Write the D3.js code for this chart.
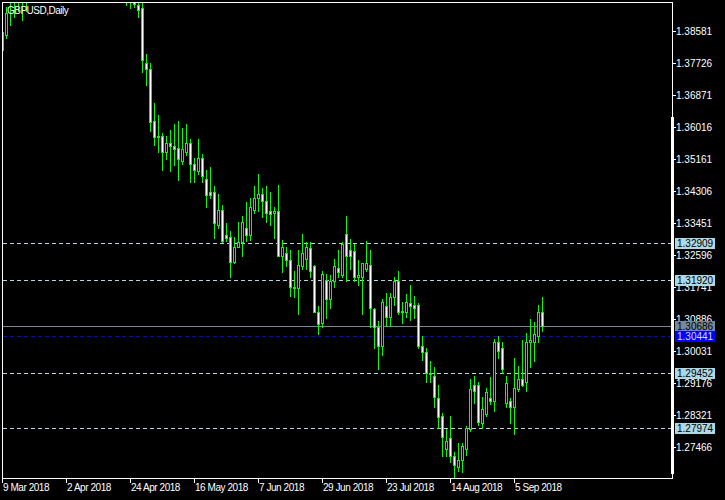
<!DOCTYPE html>
<html><head><meta charset="utf-8">
<script src="https://cdn.jsdelivr.net/npm/d3@7"></script>
<style>html,body{margin:0;padding:0;background:#000;overflow:hidden}</style>
</head><body>
<svg id="c" width="725" height="500"></svg>
<script>
const title = "GBPUSD,Daily";
const firstDay = "2018-03-09";
const lastDay = "2018-09-14";
const open = [1.3809,1.3849,1.3950,1.3975,1.3990,1.4015,1.3960,1.3990,1.4030,1.4140,1.4130,1.4140,1.4230,1.4170,1.4160,1.4020,1.4020,1.4080,1.4060,1.4090,1.4020,1.4090,1.4120,1.4150,1.4200,1.4240,1.4240,1.4330,1.4290,1.4190,1.4080,1.4010,1.3960,1.3975,1.3927,1.3919,1.3772,1.3758,1.3617,1.3577,1.3577,1.3534,1.3558,1.3550,1.3547,1.3512,1.3534,1.3558,1.3504,1.3483,1.3518,1.3462,1.3429,1.3429,1.3339,1.3381,1.3314,1.3309,1.3242,1.3282,1.3293,1.3333,1.3312,1.3379,1.3411,1.3424,1.3403,1.3376,1.3373,1.3376,1.3258,1.3264,1.3245,1.3175,1.3170,1.3229,1.3250,1.3277,1.3229,1.3108,1.3079,1.3194,1.3143,1.3189,1.3224,1.3205,1.3317,1.3272,1.3269,1.3202,1.3202,1.3221,1.3232,1.3114,1.3068,1.3015,1.3122,1.3095,1.3146,1.3191,1.3111,1.3106,1.3130,1.3127,1.3127,1.3015,1.3001,1.2945,1.2937,1.2878,1.2828,1.2742,1.2769,1.2721,1.2692,1.2710,1.2742,1.2793,1.2911,1.2911,1.2809,1.2833,1.2878,1.2868,1.3026,1.3012,1.2865,1.2868,1.2854,1.2900,1.2927,1.2921,1.3026,1.3028,1.3044,1.3106];
const high = [1.3863,1.3922,1.3995,1.4020,1.4040,1.4040,1.4010,1.4060,1.4150,1.4190,1.4180,1.4245,1.4240,1.4200,1.4170,1.4050,1.4090,1.4090,1.4110,1.4100,1.4100,1.4140,1.4180,1.4210,1.4250,1.4300,1.4340,1.4377,1.4300,1.4200,1.4090,1.4030,1.4010,1.3990,1.3950,1.3935,1.3796,1.3774,1.3667,1.3633,1.3587,1.3577,1.3595,1.3609,1.3619,1.3598,1.3611,1.3571,1.3518,1.3571,1.3531,1.3486,1.3494,1.3445,1.3424,1.3392,1.3344,1.3325,1.3309,1.3349,1.3363,1.3400,1.3411,1.3445,1.3475,1.3440,1.3443,1.3427,1.3389,1.3448,1.3301,1.3280,1.3274,1.3218,1.3272,1.3317,1.3293,1.3293,1.3234,1.3122,1.3216,1.3210,1.3207,1.3250,1.3272,1.3293,1.3365,1.3303,1.3288,1.3247,1.3239,1.3296,1.3272,1.3119,1.3084,1.3141,1.3159,1.3159,1.3202,1.3216,1.3133,1.3154,1.3178,1.3149,1.3130,1.3042,1.3010,1.2975,1.2961,1.2913,1.2838,1.2793,1.2828,1.2734,1.2756,1.2756,1.2801,1.2927,1.2937,1.2919,1.2881,1.2903,1.2932,1.3034,1.3044,1.3028,1.2935,1.2876,1.2983,1.2964,1.3031,1.3052,1.3089,1.3081,1.3125,1.3146];
const low = [1.3800,1.3841,1.3876,1.3895,1.3911,1.3889,1.3911,1.3960,1.3990,1.4080,1.4070,1.4120,1.4160,1.4120,1.4010,1.4000,1.4000,1.4000,1.4020,1.3990,1.3980,1.4050,1.4100,1.4130,1.4160,1.4220,1.4230,1.4280,1.4170,1.4040,1.3990,1.3927,1.3919,1.3924,1.3895,1.3748,1.3713,1.3590,1.3555,1.3536,1.3486,1.3515,1.3483,1.3499,1.3459,1.3502,1.3528,1.3454,1.3456,1.3475,1.3454,1.3389,1.3411,1.3304,1.3333,1.3293,1.3296,1.3202,1.3237,1.3280,1.3256,1.3296,1.3301,1.3373,1.3376,1.3360,1.3347,1.3341,1.3306,1.3256,1.3213,1.3229,1.3149,1.3146,1.3101,1.3221,1.3221,1.3202,1.3106,1.3047,1.3066,1.3092,1.3117,1.3173,1.3202,1.3202,1.3189,1.3221,1.3189,1.3178,1.3101,1.3216,1.3068,1.3012,1.2956,1.2993,1.3071,1.3071,1.3125,1.3103,1.3079,1.3095,1.3087,1.3092,1.3012,1.2980,1.2919,1.2921,1.2854,1.2798,1.2721,1.2721,1.2705,1.2662,1.2683,1.2678,1.2726,1.2790,1.2865,1.2804,1.2798,1.2828,1.2860,1.2843,1.2985,1.2945,1.2852,1.2809,1.2782,1.2895,1.2908,1.2895,1.2961,1.2977,1.3026,1.3055];
const close = [1.3855,1.3908,1.3975,1.3990,1.4015,1.3960,1.3990,1.4030,1.4140,1.4130,1.4140,1.4230,1.4170,1.4160,1.4020,1.4020,1.4080,1.4060,1.4090,1.4020,1.4090,1.4120,1.4150,1.4200,1.4240,1.4240,1.4330,1.4290,1.4190,1.4080,1.4010,1.3960,1.3975,1.3932,1.3916,1.3782,1.3758,1.3614,1.3574,1.3574,1.3534,1.3558,1.3550,1.3544,1.3515,1.3544,1.3558,1.3504,1.3488,1.3518,1.3470,1.3421,1.3421,1.3344,1.3381,1.3296,1.3306,1.3242,1.3282,1.3293,1.3349,1.3312,1.3387,1.3413,1.3424,1.3405,1.3373,1.3370,1.3376,1.3258,1.3280,1.3245,1.3175,1.3170,1.3234,1.3266,1.3280,1.3216,1.3108,1.3076,1.3210,1.3143,1.3191,1.3229,1.3213,1.3288,1.3256,1.3256,1.3202,1.3207,1.3237,1.3237,1.3117,1.3068,1.3015,1.3133,1.3095,1.3146,1.3189,1.3106,1.3106,1.3133,1.3122,1.3119,1.3015,1.3001,1.2943,1.2940,1.2881,1.2825,1.2772,1.2761,1.2721,1.2697,1.2710,1.2750,1.2798,1.2900,1.2895,1.2812,1.2849,1.2892,1.2868,1.3026,1.3004,1.2956,1.2916,1.2854,1.2905,1.2927,1.2913,1.3026,1.3031,1.3047,1.3108,1.3069];
const priceTicks = [1.38581,1.37726,1.36871,1.36016,1.35161,1.34306,1.33451,1.32596,1.31741,1.30886,1.30031,1.29176,1.28321,1.27466];
const dateTickLabels = ["9 Mar 2018","2 Apr 2018","24 Apr 2018","16 May 2018","7 Jun 2018","29 Jun 2018","23 Jul 2018","14 Aug 2018","5 Sep 2018"];
const levelLines = [1.32909, 1.31920, 1.29452, 1.27974];
const lastPrice = 1.30686;
const markPrice = 1.30441;

const GREEN = "#00ff00", FONT = "'Liberation Sans', Arial, sans-serif";
const svg = d3.select("#c");
svg.append("rect").attr("width",725).attr("height",500).attr("fill","#000");

const days = d3.utcDays(new Date(firstDay+"T00:00:00Z"), d3.utcDay.offset(new Date(lastDay+"T00:00:00Z"),1))
  .filter(d => d.getUTCDay() !== 0 && d.getUTCDay() !== 6);
const fmt = d3.utcFormat("%-d %b %Y");
const x = d3.scaleBand().domain(days.map(fmt)).range([0, days.length*4]).padding(0);
const y = d3.scaleLinear().domain([priceTicks[0], priceTicks[priceTicks.length-1]]).range([31.7, 447.3]);
const py = p => Math.floor(y(p));

const L = 2, R = 672, T = 2, B = 478;
svg.append("defs").append("clipPath").attr("id","clip").append("rect")
  .attr("x",L+1).attr("y",T+1).attr("width",R-L-1).attr("height",B-T-1);
const plot = svg.append("g").attr("clip-path","url(#clip)");

// level lines
levelLines.forEach(p => {
  plot.append("line").attr("x1",L+1).attr("x2",R).attr("y1",py(p)+0.5).attr("y2",py(p)+0.5)
    .attr("stroke","#add8e6").attr("stroke-dasharray","4,3");
});
plot.append("line").attr("x1",L+1).attr("x2",R).attr("y1",py(lastPrice)+0.5).attr("y2",py(lastPrice)+0.5)
  .attr("stroke","#778899");
plot.append("line").attr("x1",L+1).attr("x2",R).attr("y1",py(markPrice)+0.5).attr("y2",py(markPrice)+0.5)
  .attr("stroke","#0000ff").attr("stroke-dasharray","4,3");

// candles
const data = days.map((d,i) => ({k: fmt(d), o: open[i], h: high[i], l: low[i], c: close[i]}));
const g = plot.append("g").attr("shape-rendering","crispEdges");
data.forEach(d => {
  const cx = x(d.k) + 2;
  const yh = py(d.h), yl = py(d.l), yo = py(d.o), yc = py(d.c);
  g.append("rect").attr("x",cx).attr("y",yh).attr("width",1).attr("height",yl-yh+1).attr("fill",GREEN);
  const top = Math.min(yo,yc), bot = Math.max(yo,yc);
  g.append("rect").attr("x",cx-1).attr("y",top).attr("width",3).attr("height",bot-top+1).attr("fill",GREEN);
  if (bot - top >= 2) {
    g.append("rect").attr("x",cx).attr("y",top+1).attr("width",1).attr("height",bot-top-1)
      .attr("fill", d.c < d.o ? "#ffffff" : "#000000");
  }
});

// frame
const fr = svg.append("g").attr("stroke","#fff").attr("shape-rendering","crispEdges");
fr.append("line").attr("x1",L).attr("x2",R+1).attr("y1",T+0.5).attr("y2",T+0.5);
fr.append("line").attr("x1",L+0.5).attr("x2",L+0.5).attr("y1",T).attr("y2",B+1);
fr.append("line").attr("x1",L).attr("x2",R+1).attr("y1",B+0.5).attr("y2",B+0.5);
fr.append("line").attr("x1",R+0.5).attr("x2",R+0.5).attr("y1",T).attr("y2",B+1);
svg.append("rect").attr("x",R-1).attr("y",117).attr("width",3).attr("height",357).attr("fill","#fff");

// price axis
priceTicks.forEach(p => {
  const yy = py(p);
  svg.append("line").attr("x1",R).attr("x2",R+4).attr("y1",yy+0.5).attr("y2",yy+0.5).attr("stroke","#fff");
  svg.append("text").attr("x",R+4).attr("y",yy+4).attr("fill","#fff")
    .attr("font-family",FONT).attr("font-size",10).text(p.toFixed(5));
});
function tag(p, bg, fg) {
  const yy = py(p);
  svg.append("rect").attr("x",R+3).attr("y",yy-5).attr("width",40).attr("height",11).attr("fill",bg);
  svg.append("text").attr("x",R+5).attr("y",yy+4).attr("fill",fg)
    .attr("font-family",FONT).attr("font-size",10).text(p.toFixed(5));
}
levelLines.forEach(p => tag(p, "#add8e6", "#000"));
tag(lastPrice, "#778899", "#000");
tag(markPrice, "#0000ff", "#d8d8ff");

// date axis
dateTickLabels.forEach(lbl => {
  const xx = x(lbl) + 2;
  svg.append("line").attr("x1",xx+0.5).attr("x2",xx+0.5).attr("y1",B).attr("y2",B+5).attr("stroke","#fff");
  svg.append("text").attr("x",xx+1).attr("y",491).attr("fill","#fff").attr("letter-spacing","-0.45")
    .attr("font-family",FONT).attr("font-size",10).text(lbl);
});

// title
svg.append("text").attr("x",7).attr("y",14).attr("fill","#fff").attr("letter-spacing","-0.5")
  .attr("font-family",FONT).attr("font-size",10).text(title);
</script>
</body></html>
